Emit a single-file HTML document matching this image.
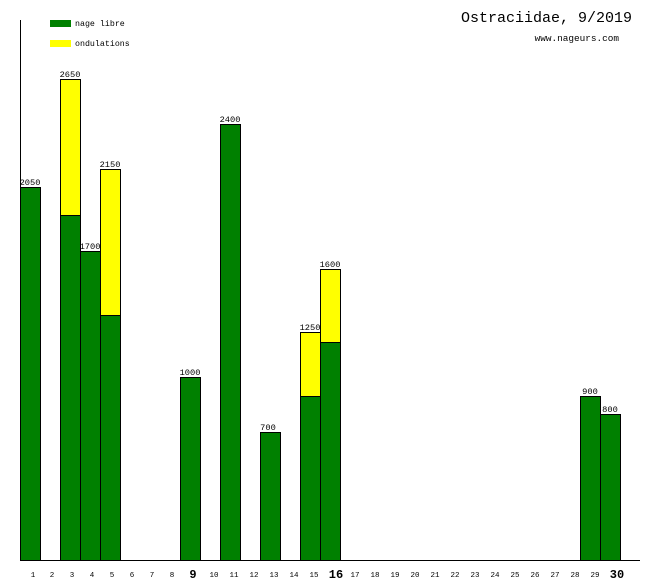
<!DOCTYPE html>
<html><head><meta charset="utf-8"><style>
html,body{margin:0;padding:0;background:#fff;}
svg{display:block;}
text{font-family:"Liberation Mono","DejaVu Sans Mono",monospace;fill:#000;}
</style></head><body>
<svg width="660" height="580" viewBox="0 0 660 580" xmlns="http://www.w3.org/2000/svg">
<rect x="0" y="0" width="660" height="580" fill="#fff"/>
<line x1="20.5" y1="20" x2="20.5" y2="560" stroke="#000"/>
<line x1="20" y1="560.5" x2="640" y2="560.5" stroke="#000"/>
<rect x="50" y="20" width="21" height="7" fill="#008000"/>
<rect x="50" y="40" width="21" height="7" fill="#ffff00"/>
<text x="75" y="26" font-size="8.3">nage libre</text>
<text x="75" y="46" font-size="8.3">ondulations</text>
<text x="632" y="22" font-size="15" text-anchor="end">Ostraciidae, 9/2019</text>
<text x="619" y="41" font-size="9.4" text-anchor="end">www.nageurs.com</text>
<g stroke="#000" stroke-width="1">
<rect x="20.5" y="187.5" width="20" height="373" fill="#008000"/>
<rect x="60.5" y="79.5" width="20" height="136" fill="#ffff00"/>
<rect x="60.5" y="215.5" width="20" height="345" fill="#008000"/>
<rect x="80.5" y="251.5" width="20" height="309" fill="#008000"/>
<rect x="100.5" y="169.5" width="20" height="146" fill="#ffff00"/>
<rect x="100.5" y="315.5" width="20" height="245" fill="#008000"/>
<rect x="180.5" y="377.5" width="20" height="183" fill="#008000"/>
<rect x="220.5" y="124.5" width="20" height="436" fill="#008000"/>
<rect x="260.5" y="432.5" width="20" height="128" fill="#008000"/>
<rect x="300.5" y="332.5" width="20" height="64" fill="#ffff00"/>
<rect x="300.5" y="396.5" width="20" height="164" fill="#008000"/>
<rect x="320.5" y="269.5" width="20" height="73" fill="#ffff00"/>
<rect x="320.5" y="342.5" width="20" height="218" fill="#008000"/>
<rect x="580.5" y="396.5" width="20" height="164" fill="#008000"/>
<rect x="600.5" y="414.5" width="20" height="146" fill="#008000"/>
</g>
<g font-size="8.7" text-anchor="middle">
<text x="30" y="185">2050</text>
<text x="70" y="77">2650</text>
<text x="90" y="249">1700</text>
<text x="110" y="167">2150</text>
<text x="190" y="375">1000</text>
<text x="230" y="122">2400</text>
<text x="268" y="430">700</text>
<text x="310" y="330">1250</text>
<text x="330" y="267">1600</text>
<text x="590" y="394">900</text>
<text x="610" y="412">800</text>
</g>
<g font-size="7.5" text-anchor="middle">
<text x="33" y="577">1</text><text x="52" y="577">2</text><text x="72" y="577">3</text><text x="92" y="577">4</text><text x="112" y="577">5</text><text x="132" y="577">6</text><text x="152" y="577">7</text><text x="172" y="577">8</text>
<text x="214" y="577">10</text><text x="234" y="577">11</text><text x="254" y="577">12</text><text x="274" y="577">13</text><text x="294" y="577">14</text><text x="314" y="577">15</text>
<text x="355" y="577">17</text><text x="375" y="577">18</text><text x="395" y="577">19</text><text x="415" y="577">20</text><text x="435" y="577">21</text><text x="455" y="577">22</text><text x="475" y="577">23</text><text x="495" y="577">24</text><text x="515" y="577">25</text><text x="535" y="577">26</text><text x="555" y="577">27</text><text x="575" y="577">28</text><text x="595" y="577">29</text>
</g>
<g font-size="12" font-weight="bold" text-anchor="middle">
<text x="193" y="578">9</text><text x="336" y="578">16</text><text x="617" y="578">30</text>
</g>
</svg>
</body></html>
